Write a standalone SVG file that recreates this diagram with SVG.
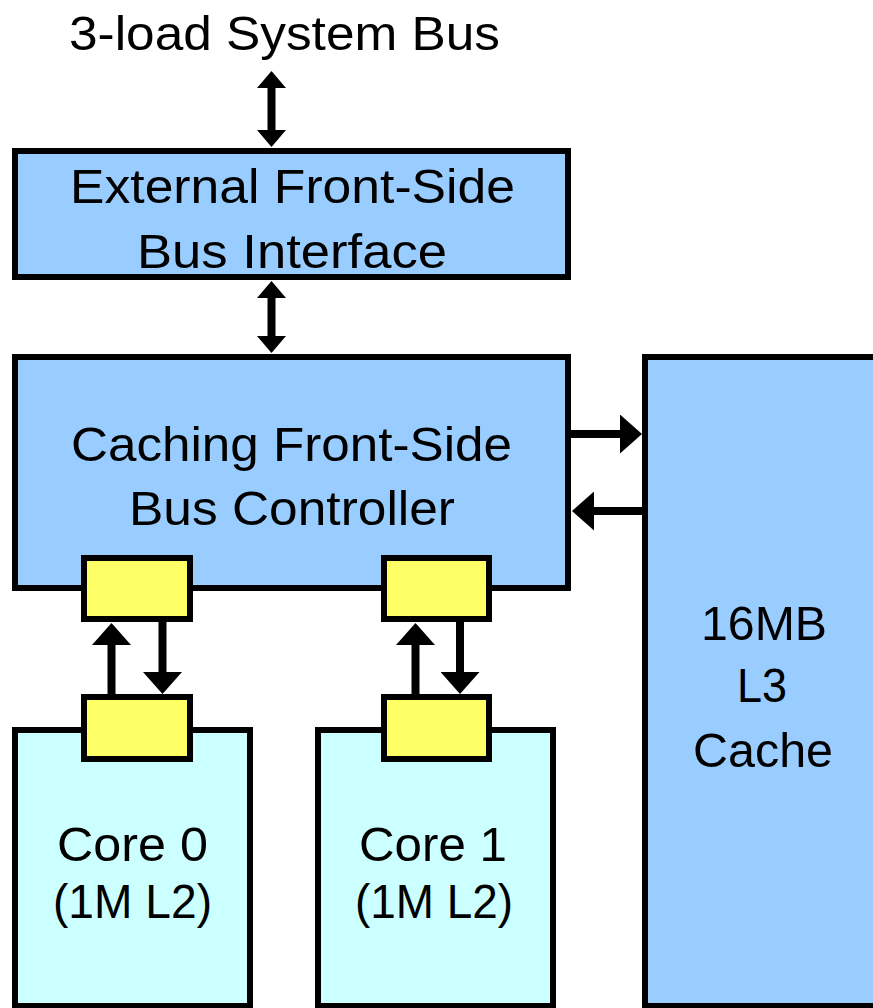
<svg xmlns="http://www.w3.org/2000/svg" width="873" height="1008" viewBox="0 0 873 1008">
  <style>
    .box { stroke: #000; stroke-width: 6; }
    .bus { fill: #99CCFF; }
    .core { fill: #CCFFFF; }
    .port { fill: #FFFF66; }
    .lbl { font-family: "Liberation Sans", Arial, sans-serif; font-size: 49px; fill: #000; text-anchor: middle; }
    .wire { stroke: #000; stroke-width: 8; fill: none; }
    .big { marker-end: url(#head); }
    .small { marker-start: url(#headS); marker-end: url(#headS); }
  </style>
  <defs>
    <marker id="head" markerUnits="userSpaceOnUse" viewBox="0 0 22 39" markerWidth="22" markerHeight="39" refX="1" refY="19.5" orient="auto-start-reverse">
      <path d="M0,0 L22,19.5 L0,39 Z" fill="#000"/>
    </marker>
    <marker id="headS" markerUnits="userSpaceOnUse" viewBox="0 0 17 29" markerWidth="17" markerHeight="29" refX="1" refY="14.5" orient="auto-start-reverse">
      <path d="M0,0 L17,14.5 L0,29 Z" fill="#000"/>
    </marker>
  </defs>

  <text class="lbl" x="284.5" y="50" textLength="431" lengthAdjust="spacingAndGlyphs">3-load System Bus</text>

  <g id="external-fsb">
    <rect class="box bus" x="15" y="151" width="553" height="126"/>
    <text class="lbl" x="292.5" y="203" textLength="445" lengthAdjust="spacingAndGlyphs">External Front-Side</text>
    <text class="lbl" x="292" y="268" textLength="310" lengthAdjust="spacingAndGlyphs">Bus Interface</text>
  </g>

  <g id="caching-fsb">
    <rect class="box bus" x="15" y="357" width="553" height="231"/>
    <text class="lbl" x="291.5" y="461" textLength="441" lengthAdjust="spacingAndGlyphs">Caching Front-Side</text>
    <text class="lbl" x="292" y="525" textLength="326" lengthAdjust="spacingAndGlyphs">Bus Controller</text>
  </g>

  <g id="l3-cache">
    <rect class="box bus" x="645" y="357" width="240" height="649"/>
    <text class="lbl" x="764" y="640" textLength="126" lengthAdjust="spacingAndGlyphs">16MB</text>
    <text class="lbl" x="762" y="702" textLength="50" lengthAdjust="spacingAndGlyphs">L3</text>
    <text class="lbl" x="763" y="767" textLength="140" lengthAdjust="spacingAndGlyphs">Cache</text>
  </g>

  <g id="core0">
    <rect class="box core" x="15" y="730" width="235" height="276"/>
    <text class="lbl" x="132.5" y="861" textLength="151" lengthAdjust="spacingAndGlyphs">Core 0</text>
    <text class="lbl" x="132.5" y="918" textLength="159" lengthAdjust="spacingAndGlyphs">(1M L2)</text>
  </g>

  <g id="core1">
    <rect class="box core" x="318" y="730" width="235" height="276"/>
    <text class="lbl" x="433" y="861" textLength="148" lengthAdjust="spacingAndGlyphs">Core 1</text>
    <text class="lbl" x="434" y="918" textLength="158" lengthAdjust="spacingAndGlyphs">(1M L2)</text>
  </g>

  <!-- interface ports on the bus controller and on each core -->
  <g id="port-bus0"><rect class="box port" x="84" y="558" width="106" height="61"/></g>
  <g id="port-bus1"><rect class="box port" x="384" y="558" width="105" height="61"/></g>
  <g id="port-core0"><rect class="box port" x="84" y="697" width="106" height="62"/></g>
  <g id="port-core1"><rect class="box port" x="384" y="697" width="105" height="62"/></g>

  <g id="connectors">
    <line class="wire small" x1="271.5" y1="87" x2="271.5" y2="131"/>
    <line class="wire small" x1="271.5" y1="297" x2="271.5" y2="337"/>
    <line class="wire big" x1="569" y1="434" x2="621" y2="434"/>
    <line class="wire big" x1="644" y1="511" x2="593" y2="511"/>
    <line class="wire big" x1="111.5" y1="695" x2="111.5" y2="644"/>
    <line class="wire big" x1="162.5" y1="621" x2="162.5" y2="673"/>
    <line class="wire big" x1="415.5" y1="695" x2="415.5" y2="644"/>
    <line class="wire big" x1="460" y1="621" x2="460" y2="673"/>
  </g>
</svg>
